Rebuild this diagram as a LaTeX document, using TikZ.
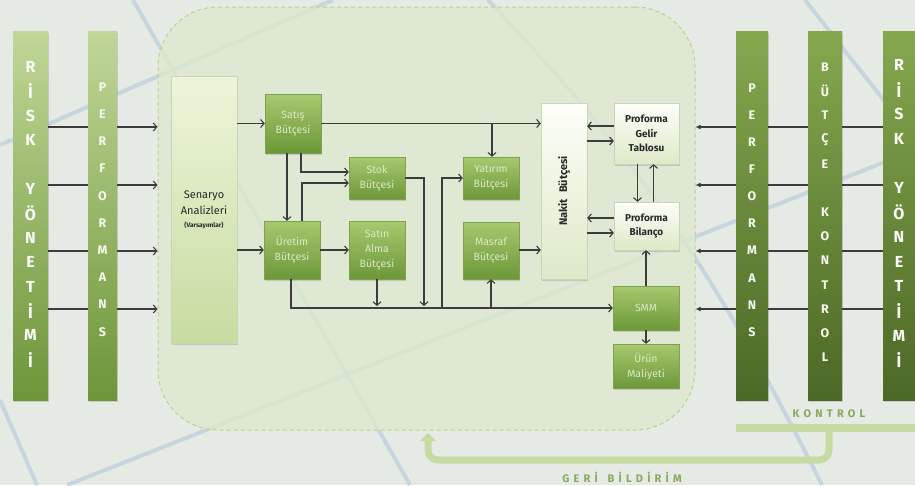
\documentclass[tikz,border=0pt]{standalone}
\usepackage{fontspec}
\setmainfont{Fira Sans}
\newfontfamily\spacedfont[LetterSpace=38]{Fira Sans}
\usetikzlibrary{arrows.meta,shadows}
\definecolor{bgc}{HTML}{E5EBE4}
\definecolor{regc}{HTML}{DDE8CF}
\definecolor{regdash}{HTML}{B9D38A}
\definecolor{bluec}{HTML}{BFD0DD}
\definecolor{gtop}{HTML}{A8C86E}
\definecolor{gbot}{HTML}{6C9838}
\definecolor{gedge}{HTML}{7FA34C}
\definecolor{gtext}{HTML}{DDE8C6}
\definecolor{ltop}{HTML}{C0D797}
\definecolor{lbot}{HTML}{6D9539}
\definecolor{rtop}{HTML}{84A84E}
\definecolor{rbot}{HTML}{4C6826}
\definecolor{ctop}{HTML}{FDFEF8}
\definecolor{cbot}{HTML}{DDE9C8}
\definecolor{stop}{HTML}{EEF4DA}
\definecolor{sbot}{HTML}{C6DC9F}
\definecolor{linec}{HTML}{3C3C3C}
\definecolor{darkt}{HTML}{2A2A2A}
\definecolor{fbc}{HTML}{C6DBA2}
\definecolor{fbt}{HTML}{8AA85E}
\begin{document}
\begin{tikzpicture}[x=1pt,y=-1pt,
  shad/.style={drop shadow={opacity=0.3,shadow xshift=1pt,shadow yshift=-1.5pt}},
  gbox/.style={shad,draw=gedge,line width=0.4pt,top color=gtop,bottom color=gbot,
    text=gtext,font=\fontsize{10.5}{15}\selectfont,align=center,inner sep=0pt},
  cbox/.style={shad,draw=cbot!80!gray,line width=0.3pt,top color=ctop,bottom color=cbot,
    text=darkt,font=\bfseries\fontsize{10}{14.5}\selectfont,align=center,inner sep=0pt},
  lbar/.style={shad,top color=ltop,bottom color=lbot,inner sep=0pt,minimum height=369pt},
  rbar/.style={shad,top color=rtop,bottom color=rbot,inner sep=0pt,minimum height=369pt},
  bigl/.style={text=white!95!gtop,font=\bfseries\fontsize{16}{16}\selectfont,inner sep=0pt},
  smll/.style={text=white!90!gtop,font=\bfseries\fontsize{12.5}{12.5}\selectfont,inner sep=0pt},
  conn/.style={draw=linec,line width=1.1pt,-{Straight Barb[length=3.5pt,width=8pt,line width=1.1pt]}},
  plain/.style={draw=linec,line width=1.1pt},
  rarr/.style={draw=linec,line width=1.1pt,-{Latex[length=5pt,width=5pt]}},
  blu/.style={draw=bluec,line width=4pt,opacity=0.8},
  fbline/.style={draw=fbc,line width=7pt,rounded corners=10pt,-{Triangle[length=8pt,width=16pt]}},
  fbtext/.style={text=fbt,font=\spacedfont\bfseries\fontsize{11}{11}\selectfont,inner sep=0pt}
]
\useasboundingbox (0,0) rectangle (915,485);
\fill[bgc] (0,0) rectangle (915,485);
% decorative blue lines
\draw[blu] (0,145) -- (333,0);
\draw[blu] (133,0) -- (410,485);
\draw[blu] (0,400) -- (37,485);
\draw[blu] (67,485) -- (915,150);
\draw[blu] (488,0) .. controls (600,120) and (690,220) .. (822,485);
\draw[blu] (805,0) -- (915,140);
% region
\node[draw=regdash,line width=1pt,dash pattern=on 4pt off 3pt,fill=regc,fill opacity=0.8,
  rounded corners=60pt,minimum width=537pt,minimum height=423pt,inner sep=0pt] (reg) at (426.5,218.5) {};
% levels
\coordinate (r1) at (0,127);
\coordinate (r2) at (0,185);
\coordinate (r3) at (0,251);
\coordinate (r4) at (0,309);
% left bars
\node[lbar,minimum width=35pt] (lrisk) at (30.5,215.5) {};
\node[lbar,minimum width=29pt] (lperf) at (102.5,215.5) {};
\foreach \l [count=\i from 0] in {R,İ,S,K,,Y,Ö,N,E,T,İ,M,İ}
  \node[bigl] (lrl\i) at (30.5,67+\i*24.4) {\l};
\foreach \l [count=\i from 0] in {P,E,R,F,O,R,M,A,N,S}
  \node[smll] (lpl\i) at (102.5,87+\i*27.2) {\l};
% right bars
\node[rbar,minimum width=32pt] (rperf) at (752,215.5) {};
\node[rbar,minimum width=34pt] (rbut) at (825,215.5) {};
\node[rbar,minimum width=36pt] (rrisk) at (901,215.5) {};
\foreach \l [count=\i from 0] in {P,E,R,F,O,R,M,A,N,S}
  \node[smll] (rpl\i) at (752,88+\i*27.1) {\l};
\foreach \l [count=\i from 0] in {B,Ü,T,Ç,E,,K,O,N,T,R,O,L}
  \node[smll] (rbl\i) at (825,67+\i*24.2) {\l};
\foreach \l [count=\i from 0] in {R,İ,S,K,,Y,Ö,N,E,T,İ,M,İ}
  \node[bigl] (rrl\i) at (899,65+\i*24.6) {\l};
% boxes
\node[cbox,minimum width=66pt,minimum height=267pt,top color=stop,bottom color=sbot,font=\fontsize{11}{16}\selectfont] (sen) at (204,209.5)
  {Senaryo\\Analizleri\\[-3pt]{\bfseries\fontsize{6.5}{8}\selectfont(Varsayımlar)}};
\node[gbox,minimum width=56pt,minimum height=59pt] (sat) at (293,123.5) {Satış\\Bütçesi};
\node[gbox,minimum width=56pt,minimum height=42pt] (stok) at (377,178) {Stok\\Bütçesi};
\node[gbox,minimum width=56pt,minimum height=58pt] (ure) at (292,250) {Üretim\\Bütçesi};
\node[gbox,minimum width=56pt,minimum height=58pt] (san) at (377,250) {Satın\\Alma\\Bütçesi};
\node[gbox,minimum width=56pt,minimum height=42pt] (yat) at (491,178) {Yatırım\\Bütçesi};
\node[gbox,minimum width=56pt,minimum height=57pt] (mas) at (491,250.5) {Masraf\\Bütçesi};
\node[cbox,minimum width=46pt,minimum height=176pt,font=\bfseries\fontsize{11}{12}\selectfont] (nak) at (564,191)
  {\rotatebox{90}{Nakit\hspace{6pt}Bütçesi}};
\node[cbox,minimum width=65pt,minimum height=61pt] (gel) at (646.5,133.5) {Proforma\\Gelir\\Tablosu};
\node[cbox,minimum width=65pt,minimum height=48pt] (bil) at (646.5,226) {Proforma\\Bilanço};
\node[gbox,minimum width=66pt,minimum height=44pt] (smm) at (646,308) {SMM};
\node[gbox,minimum width=66pt,minimum height=44pt] (urun) at (646,366) {Ürün\\Maliyeti};
% left and right arrows
\foreach \r in {r1,r2,r3,r4}{
  \draw[plain] (lrisk.east |- \r) -- (lperf.west |- \r);
  \draw[conn] (lperf.east |- \r) -- (reg.west |- \r);
  \draw[plain] (rrisk.west |- \r) -- (rbut.east |- \r);
  \draw[plain] (rbut.west |- \r) -- (rperf.east |- \r);
  \draw[rarr] (rperf.west |- \r) -- (reg.east |- \r);
}
% inner connectors
\coordinate (x424) at (424,0);
\coordinate (x442) at (442,0);
\draw[conn] (sen.east |- sat.west) -- (sat.west);
\draw[conn] (sen.east |- ure.west) -- (ure.west);
\draw[conn] ([xshift=-6pt]sat.south) -- ([xshift=-6pt]sat.south |- ure.north);
\draw[conn] ([xshift=8pt]sat.south) |- ([yshift=6pt]stok.west);
\draw[conn] ([xshift=10pt]ure.north) |- ([yshift=-5pt]stok.west);
\draw[conn] (ure.east) -- (san.west);
\draw[conn] ([xshift=-1pt]ure.south) |- (smm.west);
\draw[conn] (san.south) -- ([yshift=2pt]san.south |- smm.west);
\draw[conn] (stok.east) -| ([yshift=2pt]x424 |- smm.west);
\draw[conn] (x442 |- smm.west) |- (yat.west);
\draw[conn] (mas.south |- smm.west) -- (mas.south);
\draw[conn] (sat.east) -- (sat.east -| nak.west);
\draw[conn] ([xshift=1pt]yat.north |- sat.east) -- ([xshift=1pt]yat.north);
\draw[conn] (mas.east |- ure.east) -- (mas.east |- ure.east -| nak.west);
\draw[conn] ([yshift=7.5pt]gel.west) -- ([yshift=7.5pt]gel.west -| nak.east);
\draw[conn] ([yshift=-7.5pt]gel.west -| nak.east) -- ([yshift=-7.5pt]gel.west);
\draw[conn] ([yshift=8pt]bil.west) -- ([yshift=8pt]bil.west -| nak.east);
\draw[conn] ([yshift=-7pt]bil.west -| nak.east) -- ([yshift=-7pt]bil.west);
\draw[conn] ([xshift=-9pt]gel.south) -- ([xshift=-9pt]gel.south |- bil.north);
\draw[conn] ([xshift=7pt]bil.north) -- ([xshift=7pt]bil.north |- gel.south);
\draw[conn] (smm.north) -- (smm.north |- bil.south);
\draw[conn] (smm.south) -- (urun.north);
% control / feedback
\fill[fbc] (736,424) rectangle (915,432);
\node[fbtext] (kon) at (829,414) {KONTROL};
\coordinate (fbs) at (829,430);
\coordinate (fbe) at (428,433);
\draw[fbline] (fbs) -- (829,460) -- (428,460) -- (fbe);
\node[fbtext] (geri) at (622,477) {GERİ\hspace{10pt}BİLDİRİM};
\end{tikzpicture}
\end{document}
